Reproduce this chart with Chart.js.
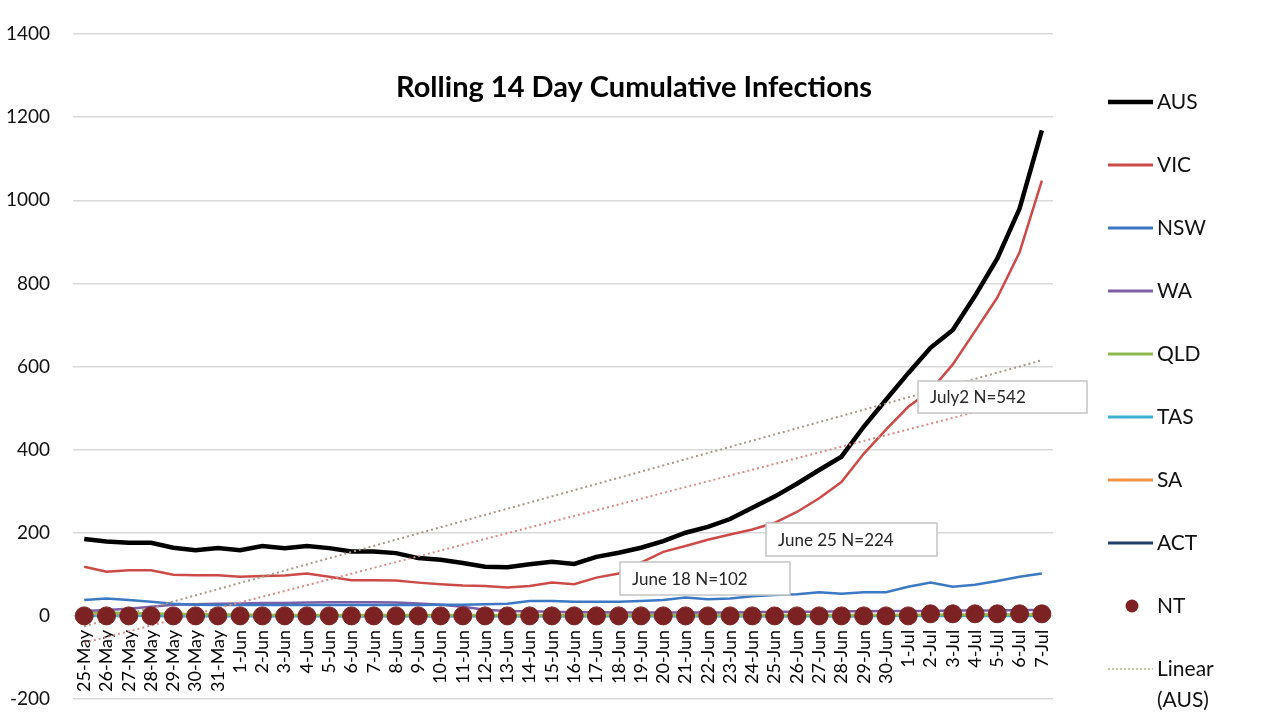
<!DOCTYPE html>
<html>
<head>
<meta charset="utf-8">
<title>Rolling 14 Day Cumulative Infections</title>
<script src="https://cdn.jsdelivr.net/npm/chart.js@4.4.1/dist/chart.umd.min.js"></script>
<style>
  body { margin: 0; background: #fff; }
  #wrap { width: 1280px; height: 720px; }
</style>
</head>
<body>
<div id="wrap"><canvas id="rolling-14" width="1280" height="720"></canvas></div>
<script>
const days = ['25-May', '26-May', '27-May', '28-May', '29-May', '30-May', '31-May',
    '1-Jun', '2-Jun', '3-Jun', '4-Jun', '5-Jun', '6-Jun', '7-Jun', '8-Jun', '9-Jun', '10-Jun',
    '11-Jun', '12-Jun', '13-Jun', '14-Jun', '15-Jun', '16-Jun', '17-Jun', '18-Jun', '19-Jun', '20-Jun',
    '21-Jun', '22-Jun', '23-Jun', '24-Jun', '25-Jun', '26-Jun', '27-Jun', '28-Jun', '29-Jun', '30-Jun',
    '1-Jul', '2-Jul', '3-Jul', '4-Jul', '5-Jul', '6-Jul', '7-Jul'];

const aus = [185, 179, 176, 176, 164, 158, 163, 158, 168, 163, 168, 163, 155, 155, 151, 139, 135,
    127, 118, 117, 124, 130, 125, 142, 152, 164, 180, 200, 214, 233, 260, 287, 318, 351, 383, 455, 520,
    584, 645, 688, 770, 860, 980, 1168];
const vic = [118, 106, 110, 110, 99, 98, 98, 94, 96, 97, 102, 94, 86, 86, 85, 80, 76,
    73, 72, 68, 72, 80, 76, 92, 102, 128, 154, 168, 183, 196, 208, 224, 250, 283, 322, 390, 448,
    503, 542, 605, 685, 766, 875, 1047];
const nsw = [38, 42, 38, 34, 29, 27, 26, 26, 26, 26, 26, 26, 26, 26, 26, 26, 27,
    27, 28, 29, 36, 36, 34, 34, 34, 36, 38, 44, 40, 42, 47, 50, 52, 57, 53, 57, 57,
    70, 80, 70, 75, 84, 94, 102];
const wa = [12, 14, 17, 22, 27, 28, 29, 30, 31, 31, 32, 33, 33, 33, 32, 30, 27,
    22, 15, 12, 11, 10, 9, 9, 8, 8, 8, 8, 8, 8, 9, 10, 10, 10, 11, 11, 12,
    12, 12, 13, 13, 13, 14, 14];
const qld = [8, 8, 7, 6, 5, 4, 4, 3, 3, 2, 2, 2, 2, 2, 2, 2, 2,
    2, 2, 2, 2, 2, 2, 2, 2, 2, 2, 2, 2, 2, 2, 2, 2, 2, 2, 2, 2,
    3, 3, 3, 3, 3, 3, 3];
const tas = [0, 0, 0, 0, 0, 0, 0, 0, 0, 0, 0, 0, 0, 0, 0, 0, 0,
    0, 0, 0, 0, 0, 0, 0, 0, 0, 0, 0, 0, 0, 0, 0, 0, 0, 0, 0, 0,
    0, 0, 0, 0, 0, 0, 0];
const sa = [3, 3, 2, 2, 2, 1, 1, 1, 1, 1, 1, 0, 0, 0, 0, 0, 0,
    0, 0, 0, 0, 0, 0, 0, 0, 0, 0, 0, 0, 0, 0, 0, 0, 0, 0, 0, 1,
    1, 2, 2, 2, 3, 3, 3];
const act = [1, 1, 1, 0, 0, 0, 0, 0, 0, 0, 0, 0, 0, 0, 0, 0, 0,
    0, 0, 0, 0, 0, 0, 0, 0, 0, 0, 0, 0, 0, 0, 0, 0, 0, 0, 0, 1,
    1, 1, 1, 2, 2, 2, 2];
const nt = [0, 0, 0, 0, 0, 0, 0, 0, 0, 0, 0, 0, 0, 0, 0, 0, 0,
    0, 0, 0, 0, 0, 0, 0, 0, 0, 0, 0, 0, 0, 0, 0, 0, 0, 0, 0, 0,
    0, 5, 5, 5, 5, 5, 5];

// trend lines, value on first and last day only
const trendAus = [-25, 615];
const trendVic = [-65, 532];

const yTicks = [-200, 0, 200, 400, 600, 800, 1000, 1200, 1400];
const noteTexts = ['July2 N=542', 'June 25 N=224', 'June 18 N=102'];
const chartTitle = 'Rolling 14 Day Cumulative Infections';

function ends(pair) {
    const d = days.map(() => null);
    d[0] = pair[0];
    d[d.length - 1] = pair[1];
    return d;
}

function lineSet(label, data, color, width, order) {
    return {
        label: label, data: data,
        borderColor: color, backgroundColor: color,
        borderWidth: width, pointRadius: 0, tension: 0, order: order
    };
}

const datasets = [
    lineSet('AUS', aus, '#000000', 4.5, 3),
    lineSet('VIC', vic, '#cc4b48', 2.5, 2),
    lineSet('NSW', nsw, '#3d78c4', 2.5, 4),
    lineSet('WA', wa, '#7d5ea6', 2.5, 4),
    lineSet('QLD', qld, '#8fbb4e', 2.5, 4),
    lineSet('TAS', tas, '#3fb0d0', 2.5, 4),
    lineSet('SA', sa, '#f39342', 2.5, 4),
    lineSet('ACT', act, '#203f68', 2.5, 4),
    {
        label: 'NT', data: nt, showLine: false, order: 0,
        pointRadius: 9, pointHoverRadius: 9,
        pointBackgroundColor: '#7c2222', pointBorderColor: '#7c2222', borderColor: '#7c2222'
    },
    Object.assign(lineSet('Linear (AUS)', ends(trendAus), '#a49986', 2, 1), {borderDash: [2, 3], spanGaps: true}),
    Object.assign(lineSet('Linear (VIC)', ends(trendVic), '#d98b86', 2, 1), {borderDash: [2, 3], spanGaps: true})
];

// legend rows on the right, same look as the spreadsheet
const legendRows = [
    {text: ['AUS'], color: '#000000', width: 4.5},
    {text: ['VIC'], color: '#cc4b48', width: 3},
    {text: ['NSW'], color: '#3d78c4', width: 3},
    {text: ['WA'], color: '#7d5ea6', width: 3},
    {text: ['QLD'], color: '#8fbb4e', width: 3},
    {text: ['TAS'], color: '#3fb0d0', width: 3},
    {text: ['SA'], color: '#f39342', width: 3},
    {text: ['ACT'], color: '#203f68', width: 3},
    {text: ['NT'], color: '#7c2222', dot: true},
    {text: ['Linear', '(AUS)'], color: '#b4b49a', width: 1.5, dash: [2, 2]}
];

const overlay = {
    id: 'overlay',
    afterDatasetsDraw(chart) {
        const ctx = chart.ctx;
        ctx.save();
        ctx.fillStyle = '#000';
        ctx.font = 'bold 29px Lato';
        ctx.textAlign = 'center';
        ctx.textBaseline = 'middle';
        ctx.fillText(chartTitle, 634, 88);

        const boxes = [[918, 381, 169, 32], [766, 523, 171, 33], [620, 562, 170, 33]];
        ctx.font = '17px Lato';
        ctx.textAlign = 'left';
        boxes.forEach((b, i) => {
            ctx.fillStyle = '#fff';
            ctx.fillRect(b[0], b[1], b[2], b[3]);
            ctx.strokeStyle = '#c4c4c4';
            ctx.lineWidth = 1.5;
            ctx.strokeRect(b[0], b[1], b[2], b[3]);
            ctx.fillStyle = '#262626';
            ctx.fillText(noteTexts[i], b[0] + 12, b[1] + b[3] / 2 + 1);
        });
        ctx.restore();
    },
    afterDraw(chart) {
        const ctx = chart.ctx;
        ctx.save();
        ctx.font = '21px Lato';
        ctx.textAlign = 'left';
        ctx.textBaseline = 'middle';
        legendRows.forEach((row, i) => {
            const y = 102 + i * 63;
            if (row.dot) {
                ctx.fillStyle = row.color;
                ctx.beginPath();
                ctx.arc(1132, y, 6.5, 0, Math.PI * 2);
                ctx.fill();
            } else {
                ctx.strokeStyle = row.color;
                ctx.lineWidth = row.width;
                ctx.setLineDash(row.dash || []);
                ctx.beginPath();
                ctx.moveTo(1108, y);
                ctx.lineTo(1153, y);
                ctx.stroke();
                ctx.setLineDash([]);
            }
            ctx.fillStyle = '#111';
            row.text.forEach((t, k) => ctx.fillText(t, 1157, y + k * 31));
        });
        ctx.restore();
    }
};

const ctx = document.getElementById('rolling-14').getContext('2d');
const rollingChart = new Chart(ctx, {
    type: 'line',
    data: {
        labels: days,
        datasets: datasets
    },
    options: {
        responsive: false,
        animation: false,
        layout: {
            padding: {left: 6, right: 227, top: 34, bottom: 21}
        },
        plugins: {
            legend: {display: false},
            title: {display: false},
            tooltip: {enabled: false}
        },
        scales: {
            x: {
                type: 'category',
                position: {y: 0},
                offset: true,
                grid: {display: false},
                border: {display: false},
                afterFit: (scale) => {
                    scale.paddingLeft = 0;
                    scale.paddingRight = 0;
                },
                ticks: {
                    autoSkip: false,
                    maxRotation: 90,
                    minRotation: 90,
                    padding: 6,
                    color: '#000',
                    font: {family: 'Lato', size: 18}
                }
            },
            y: {
                min: -200,
                max: 1400,
                afterBuildTicks: (scale) => {
                    scale.ticks = yTicks.map(v => ({value: v}));
                },
                afterFit: (scale) => {
                    // the library counts tick padding twice, keep it once
                    scale.width -= scale.options.ticks.padding;
                    scale.paddingTop = 0;
                    scale.paddingBottom = 0;
                },
                grid: {color: '#d9d9d9', lineWidth: 1.5, drawTicks: false},
                border: {display: false},
                ticks: {
                    padding: 23,
                    color: '#111',
                    font: {family: 'Lato', size: 19},
                    callback: (v) => String(v)
                }
            }
        }
    },
    plugins: [overlay]
});
</script>
</body>
</html>
